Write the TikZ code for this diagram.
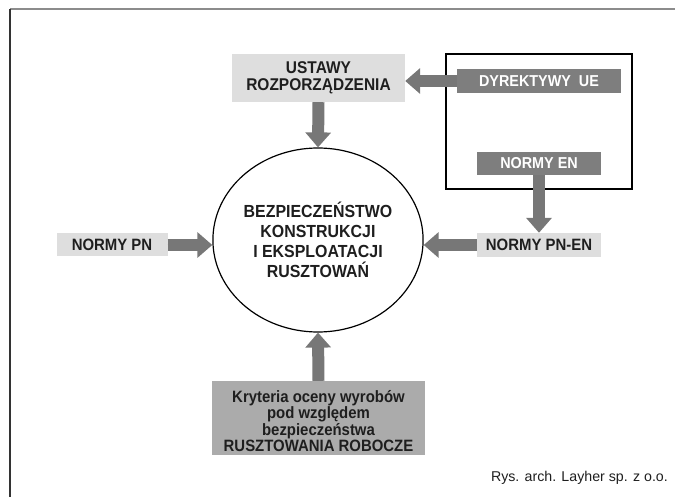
\documentclass[tikz,border=0pt]{standalone}
\usepackage{fontspec}
\setmainfont{Liberation Sans}
\newfontfamily\condfont{Liberation Sans}[FakeStretch=0.91]
\usetikzlibrary{shapes.geometric,arrows.meta}
\definecolor{lightbox}{HTML}{DEDEDE}
\definecolor{darkbox}{HTML}{7E7E7E}
\definecolor{arrowgray}{HTML}{777777}
\definecolor{midbox}{HTML}{ABABAB}
\definecolor{textdark}{HTML}{1E1E1E}
\tikzset{
  lightnode/.style={fill=lightbox, text=textdark, font=\condfont\bfseries\fontsize{16.4}{15}\selectfont, inner sep=0pt, align=center},
  darknode/.style={fill=darkbox, text=white, font=\condfont\bfseries\fontsize{15.8}{15}\selectfont, inner sep=0pt, align=center},
  bigarrow/.style={draw=arrowgray, line width=12pt, -{Triangle[width=25pt,length=15pt]}, fill=arrowgray},
}
\begin{document}
\begin{tikzpicture}[x=1pt,y=-1pt]
\useasboundingbox (0,0) rectangle (675,497);
% frame
\draw[color=gray!90, line width=2pt] (10,9) -- (675,9);
\draw[color=black!80, line width=1.5pt] (10,9) -- (10,497);
% outer rectangle around EU items
\draw[black, line width=1.3pt] (446,54) rectangle (632,189);
% nodes
\node[lightnode, minimum width=173pt, minimum height=48pt, font=\condfont\bfseries\fontsize{17}{17.5}\selectfont] (ust) at (318.5,78) {USTAWY\\ROZPORZĄDZENIA};
\node[darknode, minimum width=164pt, minimum height=24pt] (dyr) at (539,81) {DYREKTYWY\ \ UE};
\node[darknode, minimum width=124pt, minimum height=23pt] (nen) at (539,163.5) {NORMY EN};
\node[lightnode, minimum width=124pt, minimum height=24pt] (pnen) at (539,245) {NORMY PN-EN};
\node[lightnode, minimum width=111pt, minimum height=23pt] (npn) at (112,245) {NORMY PN};
\node[draw=black, line width=1.2pt, ellipse, minimum width=200pt, minimum height=184pt, inner sep=0pt,
      font=\condfont\bfseries\fontsize{17.5}{20}\selectfont, text=textdark, align=center] (circ) at (318,240)
      {BEZPIECZEŃSTWO\\KONSTRUKCJI\\I EKSPLOATACJI\\RUSZTOWAŃ};
\node[fill=midbox, minimum width=213pt, minimum height=74pt, inner sep=0pt] (kry) at (318.5,418) {};
\node[text=textdark, inner sep=0pt, font=\condfont\bfseries\fontsize{16.4}{14.8}\selectfont, align=center] (krytxt) at (318.5,421)
      {Kryteria oceny wyrobów\\pod względem\\bezpieczeństwa\\RUSZTOWANIA ROBOCZE};
\node[anchor=east, font=\fontsize{14.2}{16}\selectfont, text=textdark, inner sep=0pt] (cap) at (668,478) {Rys. arch. Layher sp. z o.o.};
% arrows
\draw[bigarrow] (dyr.west) -- (dyr.west -| ust.east);
\draw[bigarrow] (ust.south) -- (circ.north);
\draw[bigarrow] (nen.south) -- (pnen.north);
\draw[bigarrow] (pnen.west) -- (pnen.west -| circ.east);
\draw[bigarrow] (npn.east) -- (npn.east -| circ.west);
\draw[bigarrow] (kry.north) -- (circ.south);
\end{tikzpicture}
\end{document}
